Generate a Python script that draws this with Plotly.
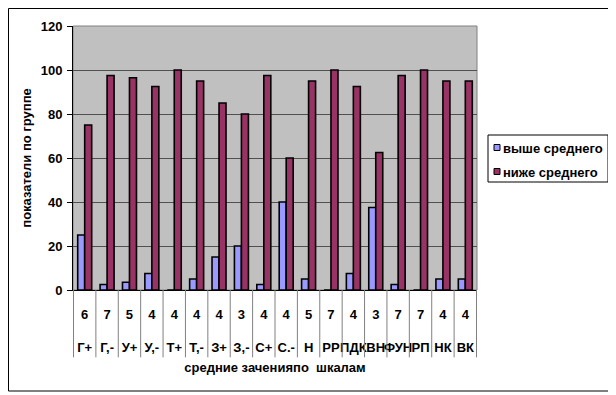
import plotly.graph_objects as go

counts = ["6", "7", "5", "4", "4", "4", "4", "3", "4", "4", "5", "7", "4", "3", "7", "7", "4", "4"]
labels = ["Г+", "Г,-", "У+", "У,-", "Т+", "Т,-", "З+", "З,-", "С+", "С.-",
          "Н", "РР", "ПДК", "ВН", "ФУН", "РП", "НК", "ВК"]
above = [25, 2.5, 3.5, 7.5, 0, 5, 15, 20, 2.5, 40, 5, 0, 7.5, 37.5, 2.5, 0, 5, 5]
below = [75, 97.5, 96.5, 92.5, 100, 95, 85, 80, 97.5, 60, 95, 100, 92.5, 62.5, 97.5, 100, 95, 95]
series_names = ["выше среднего", "ниже среднего"]
series_colors = ["#9999FF", "#993366"]
y_ticks = [0, 20, 40, 60, 80, 100, 120]

FONT = "Arial, Liberation Sans, sans-serif"
tick_text = [f"<b>{c}</b><br><br><b>{l}</b>" for c, l in zip(counts, labels)]

# figure geometry (page is offset by the 8px body margin)
W, H = 608, 387
ML, MR, MT, MB = 65, 139, 18, 105
PW, PH = W - ML - MR, H - MT - MB


def px(fx):
    return (fx - ML) / PW


def py(fy):
    return (MT + PH - fy) / PH


fig = go.Figure()
for name, vals, col in zip(series_names, [above, below], series_colors):
    fig.add_trace(go.Bar(x=labels, y=vals, name=name, showlegend=False,
                         marker=dict(color=col, line=dict(color="black", width=1.6))))

shapes = []
shapes.append(dict(type="rect", xref="paper", yref="paper", x0=0, x1=1, y0=0, y1=1,
                   line=dict(color="#808080", width=1), layer="below"))
for i in range(len(labels) + 1):
    shapes.append(dict(type="line", xref="x", yref="paper", x0=i - 0.5, x1=i - 0.5,
                       y0=0, y1=-0.255, line=dict(color="#808080", width=1)))
# chart outer border
shapes.append(dict(type="rect", xref="paper", yref="paper",
                   x0=px(0.5), x1=px(604), y0=py(383), y1=py(0.5),
                   line=dict(color="black", width=1)))

# legend box
annotations = []
shapes.append(dict(type="rect", xref="paper", yref="paper",
                   x0=px(480), x1=px(600), y0=py(174), y1=py(127),
                   fillcolor="white", line=dict(color="black", width=1)))
for k, (name, col) in enumerate(zip(series_names, series_colors)):
    cy = 139.5 + 24 * k
    shapes.append(dict(type="rect", xref="paper", yref="paper",
                       x0=px(486), x1=px(492), y0=py(cy + 3), y1=py(cy - 3),
                       fillcolor=col, line=dict(color="black", width=1)))
    annotations.append(dict(xref="paper", yref="paper", x=px(493), y=py(cy + 1),
                            xanchor="left", yanchor="middle", showarrow=False,
                            text=f"<b>{name}</b>", font=dict(size=13, family=FONT)))

fig.update_layout(
    width=W, height=H,
    margin=dict(l=ML, r=MR, t=MT, b=MB, autoexpand=False),
    paper_bgcolor="white", plot_bgcolor="#C0C0C0",
    barmode="group", bargap=0.375, bargroupgap=0,
    font=dict(family=FONT, size=13, color="black"),
    showlegend=False,
    shapes=shapes, annotations=annotations,
    xaxis=dict(type="category", tickmode="array", tickvals=labels, ticktext=tick_text,
               tickangle=0, automargin=False,
               ticks="", showline=True, linecolor="black", linewidth=1,
               showgrid=False, ticklabelstandoff=12,
               tickfont=dict(size=13, family=FONT),
               title=dict(text="<b>средние заченияпо\u00a0\u00a0шкалам</b>", standoff=8,
                          font=dict(size=13, family=FONT))),
    yaxis=dict(range=[0, 120], tickmode="array", tickvals=y_ticks,
               ticktext=[f"<b>{v}</b>" for v in y_ticks], automargin=False,
               ticks="outside", ticklen=5, tickcolor="black",
               showline=True, linecolor="black", linewidth=1,
               showgrid=True, gridcolor="#505050", gridwidth=1, zeroline=False,
               tickfont=dict(size=13, family=FONT), ticklabelstandoff=2,
               title=dict(text="<b>показатели по группе</b>", standoff=6,
                          font=dict(size=13, family=FONT))),
)

fig.write_html("out.html")
